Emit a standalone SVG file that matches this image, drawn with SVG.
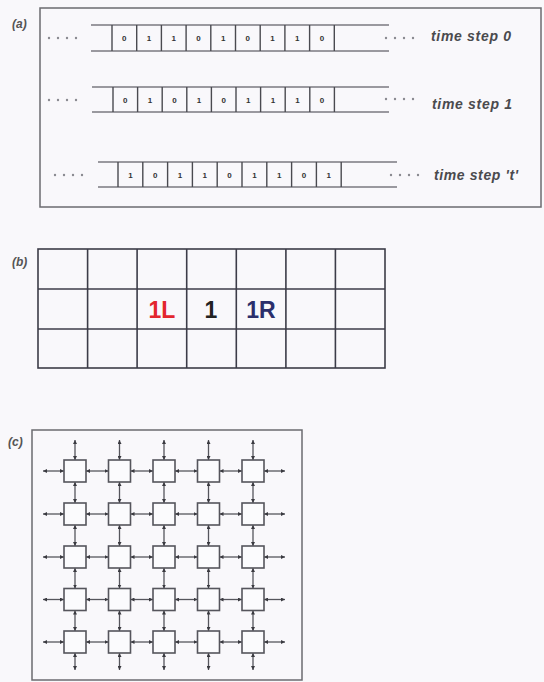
<svg xmlns="http://www.w3.org/2000/svg" width="544" height="682" viewBox="0 0 544 682">
<defs>
<style>
.bg{fill:#f9f8fb}
.frame{fill:none;stroke:#6b6b70;stroke-width:1.5}
.tl{stroke:#7a7a80;stroke-width:1.3}
.cd{stroke:#4a4a50;stroke-width:1.4}
.bit{font-family:"Liberation Sans",Arial,sans-serif;font-size:8px;font-weight:bold;fill:#333;text-anchor:middle}
.lbl{font-family:"Liberation Sans",Arial,sans-serif;font-size:14px;font-weight:bold;font-style:italic;fill:#4a4a4e}
.pl{font-family:"Liberation Sans",Arial,sans-serif;font-size:12px;font-weight:bold;font-style:italic;fill:#555}
.dot{fill:#8a8a90}
.gl{stroke:#3c3c48;stroke-width:1.6;fill:none}
.big{font-family:"Liberation Sans",Arial,sans-serif;font-size:23px;font-weight:bold;text-anchor:middle}
.nd{fill:#fbfbfd;stroke:#55555c;stroke-width:1.6}
.ln{stroke:#55555c;stroke-width:1.3;marker-start:url(#ah);marker-end:url(#ah)}
</style>
<marker id="ah" viewBox="0 0 6 6" refX="6" refY="3" markerWidth="4" markerHeight="4" markerUnits="userSpaceOnUse" orient="auto-start-reverse">
<path d="M0,0 L6,3 L0,6 z" fill="#3a3a40"/>
</marker>
</defs>
<rect class="bg" x="0" y="0" width="544" height="682"/>

<!-- Panel (a) -->
<g id="panel-a">
<text class="pl" x="12" y="28">(a)</text>
<rect class="frame" x="40" y="8" width="501" height="199"/>
</g>

<g id="tape0">
<line class="tl" x1="91" y1="25" x2="389" y2="25"/>
<line class="tl" x1="91" y1="51" x2="389" y2="51"/>
<g class="cd">
<line x1="112" y1="25" x2="112" y2="51"/><line x1="136.7" y1="25" x2="136.7" y2="51"/><line x1="161.4" y1="25" x2="161.4" y2="51"/><line x1="186.1" y1="25" x2="186.1" y2="51"/><line x1="210.8" y1="25" x2="210.8" y2="51"/><line x1="235.5" y1="25" x2="235.5" y2="51"/><line x1="260.2" y1="25" x2="260.2" y2="51"/><line x1="284.9" y1="25" x2="284.9" y2="51"/><line x1="309.6" y1="25" x2="309.6" y2="51"/><line x1="334.3" y1="25" x2="334.3" y2="51"/>
</g>
<text class="bit" x="124.35" y="41">0</text><text class="bit" x="149.05" y="41">1</text><text class="bit" x="173.75" y="41">1</text><text class="bit" x="198.45" y="41">0</text><text class="bit" x="223.15" y="41">1</text><text class="bit" x="247.85" y="41">0</text><text class="bit" x="272.55" y="41">1</text><text class="bit" x="297.25" y="41">1</text><text class="bit" x="321.95" y="41">0</text>
<g class="dot"><circle cx="49" cy="38" r="1.2"/><circle cx="58" cy="38" r="1.2"/><circle cx="67" cy="38" r="1.2"/><circle cx="76" cy="38" r="1.2"/><circle cx="386" cy="38" r="1.2"/><circle cx="395" cy="38" r="1.2"/><circle cx="404" cy="38" r="1.2"/><circle cx="413" cy="38" r="1.2"/></g>
<text class="lbl" x="431" y="41" textLength="80">time step 0</text>
</g>

<g id="tape1">
<line class="tl" x1="92" y1="87" x2="389" y2="87"/>
<line class="tl" x1="92" y1="112" x2="389" y2="112"/>
<g class="cd">
<line x1="113" y1="87" x2="113" y2="112"/><line x1="137.6" y1="87" x2="137.6" y2="112"/><line x1="162.2" y1="87" x2="162.2" y2="112"/><line x1="186.8" y1="87" x2="186.8" y2="112"/><line x1="211.4" y1="87" x2="211.4" y2="112"/><line x1="236" y1="87" x2="236" y2="112"/><line x1="260.6" y1="87" x2="260.6" y2="112"/><line x1="285.2" y1="87" x2="285.2" y2="112"/><line x1="309.8" y1="87" x2="309.8" y2="112"/><line x1="334.4" y1="87" x2="334.4" y2="112"/>
</g>
<text class="bit" x="125.3" y="102.5">0</text><text class="bit" x="149.9" y="102.5">1</text><text class="bit" x="174.5" y="102.5">0</text><text class="bit" x="199.1" y="102.5">1</text><text class="bit" x="223.7" y="102.5">0</text><text class="bit" x="248.3" y="102.5">1</text><text class="bit" x="272.9" y="102.5">1</text><text class="bit" x="297.5" y="102.5">1</text><text class="bit" x="322.1" y="102.5">0</text>
<g class="dot"><circle cx="49" cy="100" r="1.2"/><circle cx="58" cy="100" r="1.2"/><circle cx="67" cy="100" r="1.2"/><circle cx="76" cy="100" r="1.2"/><circle cx="386" cy="99" r="1.2"/><circle cx="395" cy="99" r="1.2"/><circle cx="404" cy="99" r="1.2"/><circle cx="413" cy="99" r="1.2"/></g>
<text class="lbl" x="432" y="109" textLength="80">time step 1</text>
</g>

<g id="tape2">
<line class="tl" x1="98" y1="162" x2="397" y2="162"/>
<line class="tl" x1="98" y1="187" x2="397" y2="187"/>
<g class="cd">
<line x1="118" y1="162" x2="118" y2="187"/><line x1="142.8" y1="162" x2="142.8" y2="187"/><line x1="167.6" y1="162" x2="167.6" y2="187"/><line x1="192.4" y1="162" x2="192.4" y2="187"/><line x1="217.2" y1="162" x2="217.2" y2="187"/><line x1="242" y1="162" x2="242" y2="187"/><line x1="266.8" y1="162" x2="266.8" y2="187"/><line x1="291.6" y1="162" x2="291.6" y2="187"/><line x1="316.4" y1="162" x2="316.4" y2="187"/><line x1="341.2" y1="162" x2="341.2" y2="187"/>
</g>
<text class="bit" x="130.4" y="177.5">1</text><text class="bit" x="155.2" y="177.5">0</text><text class="bit" x="180" y="177.5">1</text><text class="bit" x="204.8" y="177.5">1</text><text class="bit" x="229.6" y="177.5">0</text><text class="bit" x="254.4" y="177.5">1</text><text class="bit" x="279.2" y="177.5">1</text><text class="bit" x="304" y="177.5">0</text><text class="bit" x="328.8" y="177.5">1</text>
<g class="dot"><circle cx="55" cy="175" r="1.2"/><circle cx="64" cy="175" r="1.2"/><circle cx="73" cy="175" r="1.2"/><circle cx="82" cy="175" r="1.2"/><circle cx="391" cy="175" r="1.2"/><circle cx="400" cy="175" r="1.2"/><circle cx="409" cy="175" r="1.2"/><circle cx="418" cy="175" r="1.2"/></g>
<text class="lbl" x="434" y="180" textLength="84">time step 't'</text>
</g>

<!-- Panel (b) -->
<g id="panel-b">
<text class="pl" x="12" y="266">(b)</text>
<rect class="gl" x="38" y="249" width="347" height="119"/>
<line class="gl" x1="38" y1="289" x2="385" y2="289"/>
<line class="gl" x1="38" y1="329" x2="385" y2="329"/>
<line class="gl" x1="87.6" y1="249" x2="87.6" y2="368"/>
<line class="gl" x1="137.1" y1="249" x2="137.1" y2="368"/>
<line class="gl" x1="186.7" y1="249" x2="186.7" y2="368"/>
<line class="gl" x1="236.3" y1="249" x2="236.3" y2="368"/>
<line class="gl" x1="285.9" y1="249" x2="285.9" y2="368"/>
<line class="gl" x1="335.4" y1="249" x2="335.4" y2="368"/>
<text class="big" x="162" y="318" fill="#e3262e">1L</text>
<text class="big" x="211" y="318" fill="#222">1</text>
<text class="big" x="261" y="318" fill="#2b2f6c">1R</text>
</g>

<!-- Panel (c) -->
<g id="panel-c">
<text class="pl" x="8" y="446">(c)</text>
<rect class="frame" x="32" y="430" width="270" height="250"/>
</g>

<g id="connectors">
<g id="h-links">
<line class="ln" x1="64" y1="471" x2="43" y2="471"/><line class="ln" x1="86" y1="471" x2="108.5" y2="471"/><line class="ln" x1="130.5" y1="471" x2="153" y2="471"/><line class="ln" x1="175" y1="471" x2="197.5" y2="471"/><line class="ln" x1="219.5" y1="471" x2="242" y2="471"/><line class="ln" x1="264" y1="471" x2="285" y2="471"/>
<line class="ln" x1="64" y1="514" x2="43" y2="514"/><line class="ln" x1="86" y1="514" x2="108.5" y2="514"/><line class="ln" x1="130.5" y1="514" x2="153" y2="514"/><line class="ln" x1="175" y1="514" x2="197.5" y2="514"/><line class="ln" x1="219.5" y1="514" x2="242" y2="514"/><line class="ln" x1="264" y1="514" x2="285" y2="514"/>
<line class="ln" x1="64" y1="557" x2="43" y2="557"/><line class="ln" x1="86" y1="557" x2="108.5" y2="557"/><line class="ln" x1="130.5" y1="557" x2="153" y2="557"/><line class="ln" x1="175" y1="557" x2="197.5" y2="557"/><line class="ln" x1="219.5" y1="557" x2="242" y2="557"/><line class="ln" x1="264" y1="557" x2="285" y2="557"/>
<line class="ln" x1="64" y1="599.5" x2="43" y2="599.5"/><line class="ln" x1="86" y1="599.5" x2="108.5" y2="599.5"/><line class="ln" x1="130.5" y1="599.5" x2="153" y2="599.5"/><line class="ln" x1="175" y1="599.5" x2="197.5" y2="599.5"/><line class="ln" x1="219.5" y1="599.5" x2="242" y2="599.5"/><line class="ln" x1="264" y1="599.5" x2="285" y2="599.5"/>
<line class="ln" x1="64" y1="642" x2="43" y2="642"/><line class="ln" x1="86" y1="642" x2="108.5" y2="642"/><line class="ln" x1="130.5" y1="642" x2="153" y2="642"/><line class="ln" x1="175" y1="642" x2="197.5" y2="642"/><line class="ln" x1="219.5" y1="642" x2="242" y2="642"/><line class="ln" x1="264" y1="642" x2="285" y2="642"/>
</g>
<g id="v-links">
<line class="ln" x1="75" y1="460" x2="75" y2="440"/><line class="ln" x1="75" y1="482" x2="75" y2="503"/><line class="ln" x1="75" y1="525" x2="75" y2="546"/><line class="ln" x1="75" y1="568" x2="75" y2="588.5"/><line class="ln" x1="75" y1="610.5" x2="75" y2="631"/><line class="ln" x1="75" y1="653" x2="75" y2="670"/>
<line class="ln" x1="119.5" y1="460" x2="119.5" y2="440"/><line class="ln" x1="119.5" y1="482" x2="119.5" y2="503"/><line class="ln" x1="119.5" y1="525" x2="119.5" y2="546"/><line class="ln" x1="119.5" y1="568" x2="119.5" y2="588.5"/><line class="ln" x1="119.5" y1="610.5" x2="119.5" y2="631"/><line class="ln" x1="119.5" y1="653" x2="119.5" y2="670"/>
<line class="ln" x1="164" y1="460" x2="164" y2="440"/><line class="ln" x1="164" y1="482" x2="164" y2="503"/><line class="ln" x1="164" y1="525" x2="164" y2="546"/><line class="ln" x1="164" y1="568" x2="164" y2="588.5"/><line class="ln" x1="164" y1="610.5" x2="164" y2="631"/><line class="ln" x1="164" y1="653" x2="164" y2="670"/>
<line class="ln" x1="208.5" y1="460" x2="208.5" y2="440"/><line class="ln" x1="208.5" y1="482" x2="208.5" y2="503"/><line class="ln" x1="208.5" y1="525" x2="208.5" y2="546"/><line class="ln" x1="208.5" y1="568" x2="208.5" y2="588.5"/><line class="ln" x1="208.5" y1="610.5" x2="208.5" y2="631"/><line class="ln" x1="208.5" y1="653" x2="208.5" y2="670"/>
<line class="ln" x1="253" y1="460" x2="253" y2="440"/><line class="ln" x1="253" y1="482" x2="253" y2="503"/><line class="ln" x1="253" y1="525" x2="253" y2="546"/><line class="ln" x1="253" y1="568" x2="253" y2="588.5"/><line class="ln" x1="253" y1="610.5" x2="253" y2="631"/><line class="ln" x1="253" y1="653" x2="253" y2="670"/>
</g>
</g>

<g id="nodes">
<g id="n11"><rect class="nd" x="64" y="460" width="22" height="22"/></g>
<g id="n12"><rect class="nd" x="108.5" y="460" width="22" height="22"/></g>
<g id="n13"><rect class="nd" x="153" y="460" width="22" height="22"/></g>
<g id="n14"><rect class="nd" x="197.5" y="460" width="22" height="22"/></g>
<g id="n15"><rect class="nd" x="242" y="460" width="22" height="22"/></g>
<g id="n21"><rect class="nd" x="64" y="503" width="22" height="22"/></g>
<g id="n22"><rect class="nd" x="108.5" y="503" width="22" height="22"/></g>
<g id="n23"><rect class="nd" x="153" y="503" width="22" height="22"/></g>
<g id="n24"><rect class="nd" x="197.5" y="503" width="22" height="22"/></g>
<g id="n25"><rect class="nd" x="242" y="503" width="22" height="22"/></g>
<g id="n31"><rect class="nd" x="64" y="546" width="22" height="22"/></g>
<g id="n32"><rect class="nd" x="108.5" y="546" width="22" height="22"/></g>
<g id="n33"><rect class="nd" x="153" y="546" width="22" height="22"/></g>
<g id="n34"><rect class="nd" x="197.5" y="546" width="22" height="22"/></g>
<g id="n35"><rect class="nd" x="242" y="546" width="22" height="22"/></g>
<g id="n41"><rect class="nd" x="64" y="588.5" width="22" height="22"/></g>
<g id="n42"><rect class="nd" x="108.5" y="588.5" width="22" height="22"/></g>
<g id="n43"><rect class="nd" x="153" y="588.5" width="22" height="22"/></g>
<g id="n44"><rect class="nd" x="197.5" y="588.5" width="22" height="22"/></g>
<g id="n45"><rect class="nd" x="242" y="588.5" width="22" height="22"/></g>
<g id="n51"><rect class="nd" x="64" y="631" width="22" height="22"/></g>
<g id="n52"><rect class="nd" x="108.5" y="631" width="22" height="22"/></g>
<g id="n53"><rect class="nd" x="153" y="631" width="22" height="22"/></g>
<g id="n54"><rect class="nd" x="197.5" y="631" width="22" height="22"/></g>
<g id="n55"><rect class="nd" x="242" y="631" width="22" height="22"/></g>
</g>
</svg>
